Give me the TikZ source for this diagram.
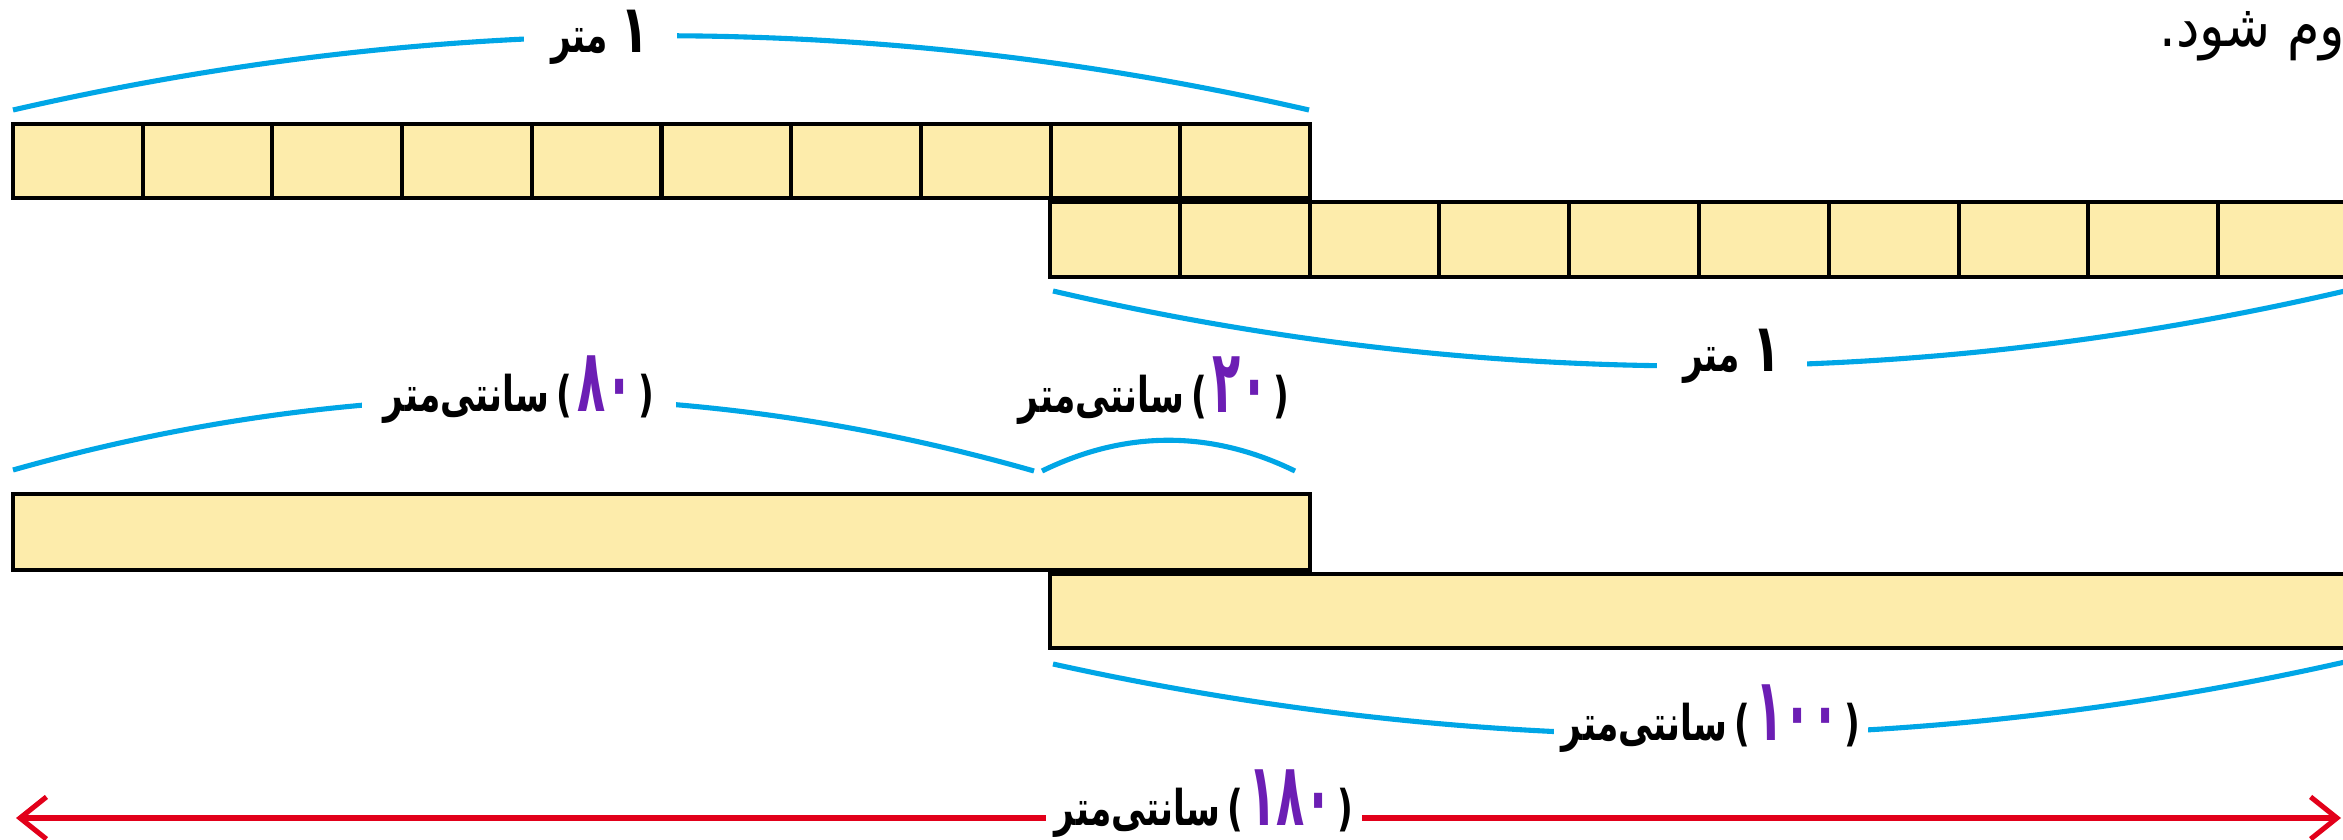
\documentclass[tikz,border=0pt]{standalone}
\usepackage{fontspec}
\usepackage{graphicx}
\usetikzlibrary{arrows.meta}
\TeXXeTstate=1
\newfontfamily\arabicfont[Script=Arabic]{DejaVu Sans}
\definecolor{arcblue}{RGB}{0,166,230}
\definecolor{barfill}{RGB}{253,236,171}
\definecolor{redarr}{RGB}{226,0,26}
\definecolor{purp}{RGB}{108,30,180}
\newcommand{\fa}[1]{\beginR #1\endR}
\newcommand{\dg}[1]{{\color{purp}\fontsize{25}{25}\selectfont\scalebox{0.75}[1]{#1}}}
\newcommand{\cmlabel}[1]{\scalebox{0.7}[1]{\fa{سانتی^^^^200cمتر}\hspace{3pt})\hspace{2pt}\dg{#1}\hspace{2pt}(}}
\newcommand{\onem}{\scalebox{0.7}[1]{\fa{{\fontsize{19}{19}\selectfont ۱} متر}}}
\begin{document}
\begin{tikzpicture}[x=0.1mm,y=-0.1mm,
  barbox/.style={draw=black,fill=barfill,line width=1.3pt},
  celldiv/.style={draw=black,line width=1.15pt},
  bluearc/.style={draw=arcblue,line width=1.45pt},
  lab/.style={font=\arabicfont\bfseries\fontsize{14}{14}\selectfont,inner sep=0pt,anchor=base},
  gapfill/.style={fill=white},
  dimline/.style={draw=redarr,line width=1.45pt,{Straight Barb[length=7.5pt,width=12pt]}-{Straight Barb[length=7.5pt,width=12pt]}}
]
\useasboundingbox (0,0) rectangle (2343,840);
% bars with cells
\draw[barbox] (13,124) rectangle (1310,198);
\foreach \k in {1,...,9} \draw[celldiv] ({13+129.7*\k},124) -- ({13+129.7*\k},198);
\draw[barbox] (1050,202) rectangle (2348,277);
\foreach \k in {1,...,9} \draw[celldiv] ({1050+129.8*\k},202) -- ({1050+129.8*\k},277);
% plain bars
\draw[barbox] (13,494) rectangle (1310,570);
\draw[barbox] (1050,574) rectangle (2348,648);
% arc coordinates
\coordinate (a1s) at (13,110);   \coordinate (a1e) at (1309,110);
\coordinate (a2s) at (1053,291); \coordinate (a2e) at (2345,291);
\coordinate (a3s) at (13,470);   \coordinate (a3e) at (1034,471);
\coordinate (a4s) at (1042,471); \coordinate (a4e) at (1295,471);
\coordinate (a5s) at (1053,664); \coordinate (a5e) at (2345,662);
\draw[bluearc] (a1s) .. controls (445,11) and (877,11) .. (a1e);
\draw[bluearc] (a2s) .. controls (1484,391) and (1914,391) .. (a2e);
\draw[bluearc] (a3s) .. controls (353,374) and (694,374) .. (a3e);
\draw[bluearc] (a4s) .. controls (1126,430) and (1211,430) .. (a4e);
\draw[bluearc] (a5s) .. controls (1484,759) and (1914,759) .. (a5e);
% labels
\node[lab,gapfill,minimum width=15.3mm] (l1) at (600,53) {\onem};
\node[lab,gapfill,minimum width=15mm] (l2) at (1732,372) {\onem};
\node[lab,gapfill,minimum width=31.4mm] (l3) at (519,412) {\cmlabel{۸۰}};
\node[lab] (l4) at (1154,413) {\cmlabel{۲۰}};
\node[lab,gapfill,minimum width=31.4mm] (l5) at (1711,740) {\cmlabel{۱۰۰}};
% red dimension arrow
\coordinate (aL) at (16,818);
\coordinate (aR) at (2341,818);
\draw[dimline] (aL) -- node[pos=0.5110,lab,gapfill,minimum width=31.6mm,yshift=-0.7mm] (l6) {\cmlabel{۱۸۰}} (aR);
% top right text
\node[font=\arabicfont\fontsize{17}{17}\selectfont,inner sep=0pt,anchor=base east] (tr) at (2346,47) {\scalebox{0.88}[1]{\fa{وم شود.}}};
\end{tikzpicture}
\end{document}
